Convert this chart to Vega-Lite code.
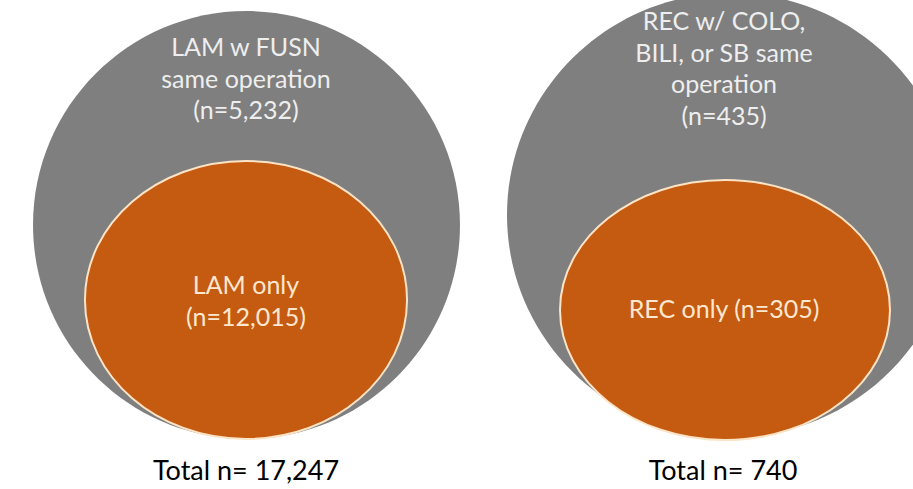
{
  "$schema": "https://vega.github.io/schema/vega-lite/v6.json",
  "width": 913,
  "height": 489,
  "autosize": {"type": "none"},
  "padding": 0,
  "background": "#ffffff",
  "config": {"view": {"stroke": null}},
  "resolve": {"scale": {"shape": "independent", "color": "independent"}},
  "datasets": {
    "ellipses": [
      {"id": "LAM outer", "group": "LAM", "part": "outer", "cx": 246.5, "cy": 225},
      {"id": "REC outer", "group": "REC", "part": "outer", "cx": 731, "cy": 215},
      {"id": "LAM inner", "group": "LAM", "part": "inner", "cx": 246, "cy": 300},
      {"id": "REC inner", "group": "REC", "part": "inner", "cx": 725, "cy": 310}
    ],
    "labels": [
      {"group": "LAM", "kind": "outer", "text": "LAM w FUSN\nsame operation\n(n=5,232)", "x": 246, "y": 48},
      {"group": "LAM", "kind": "inner", "text": "LAM only\n(n=12,015)", "x": 246, "y": 286},
      {"group": "LAM", "kind": "total", "text": "Total n= 17,247", "x": 246, "y": 472},
      {"group": "REC", "kind": "outer", "text": "REC w/ COLO,\nBILI, or SB same\noperation\n(n=435)", "x": 724, "y": 22},
      {"group": "REC", "kind": "inner", "text": "REC only (n=305)", "x": 724, "y": 310},
      {"group": "REC", "kind": "total", "text": "Total n= 740", "x": 723, "y": 472}
    ]
  },
  "layer": [
    {
      "data": {"name": "ellipses"},
      "transform": [{"filter": "datum.part === 'outer'"}],
      "mark": {"type": "point", "filled": true, "opacity": 1, "fill": "#7f7f7f", "strokeWidth": 0, "size": 200704},
      "encoding": {
        "x": {"field": "cx", "type": "quantitative", "scale": {"domain": [0, 913], "nice": false, "zero": false}, "axis": null},
        "y": {"field": "cy", "type": "quantitative", "scale": {"domain": [0, 489], "nice": false, "zero": false, "reverse": true}, "axis": null},
        "shape": {
          "field": "id", "type": "nominal", "legend": null,
          "scale": {
            "domain": ["LAM outer", "REC outer"],
            "range": [
              "M -0.953 0 C -0.953 -0.527 -0.526 -0.955 0 -0.955 C 0.526 -0.955 0.953 -0.527 0.953 0 C 0.953 0.527 0.526 0.955 0 0.955 C -0.526 0.955 -0.953 0.527 -0.953 0 Z",
              "M -1 0 C -1 -0.547 -0.552 -0.991 0 -0.991 C 0.552 -0.991 1 -0.547 1 0 C 1 0.547 0.552 0.991 0 0.991 C -0.552 0.991 -1 0.547 -1 0 Z"
            ]
          }
        }
      }
    },
    {
      "data": {"name": "ellipses"},
      "transform": [{"filter": "datum.part === 'inner'"}],
      "mark": {"type": "point", "filled": true, "opacity": 1, "fill": "#c55a11", "stroke": "#fbe3c6", "strokeWidth": 2, "strokeOpacity": 1, "size": 108900},
      "encoding": {
        "x": {"field": "cx", "type": "quantitative", "scale": {"domain": [0, 913], "nice": false, "zero": false}, "axis": null},
        "y": {"field": "cy", "type": "quantitative", "scale": {"domain": [0, 489], "nice": false, "zero": false, "reverse": true}, "axis": null},
        "shape": {
          "field": "id", "type": "nominal", "legend": null,
          "scale": {
            "domain": ["LAM inner", "REC inner"],
            "range": [
              "M -0.976 0 C -0.976 -0.465 -0.539 -0.842 0 -0.842 C 0.539 -0.842 0.976 -0.465 0.976 0 C 0.976 0.465 0.539 0.842 0 0.842 C -0.539 0.842 -0.976 0.465 -0.976 0 Z",
              "M -1 0 C -1 -0.435 -0.552 -0.788 0 -0.788 C 0.552 -0.788 1 -0.435 1 0 C 1 0.435 0.552 0.788 0 0.788 C -0.552 0.788 -1 0.435 -1 0 Z"
            ]
          }
        }
      }
    },
    {
      "data": {"name": "labels"},
      "transform": [{"filter": "datum.kind !== 'total'"}],
      "mark": {"type": "text", "font": "Lato", "fontSize": 25, "lineBreak": "\n", "lineHeight": 31.5, "align": "center", "baseline": "middle"},
      "encoding": {
        "x": {"field": "x", "type": "quantitative", "scale": {"domain": [0, 913], "nice": false, "zero": false}, "axis": null},
        "y": {"field": "y", "type": "quantitative", "scale": {"domain": [0, 489], "nice": false, "zero": false, "reverse": true}, "axis": null},
        "text": {"field": "text", "type": "nominal"},
        "color": {"field": "kind", "type": "nominal", "legend": null, "scale": {"domain": ["outer", "inner"], "range": ["#eeeeee", "#fde8cf"]}}
      }
    },
    {
      "data": {"name": "labels"},
      "transform": [{"filter": "datum.kind === 'total'"}],
      "mark": {"type": "text", "font": "Lato", "fontSize": 27, "align": "center", "baseline": "middle", "color": "#000000"},
      "encoding": {
        "x": {"field": "x", "type": "quantitative", "scale": {"domain": [0, 913], "nice": false, "zero": false}, "axis": null},
        "y": {"field": "y", "type": "quantitative", "scale": {"domain": [0, 489], "nice": false, "zero": false, "reverse": true}, "axis": null},
        "text": {"field": "text", "type": "nominal"}
      }
    }
  ]
}
